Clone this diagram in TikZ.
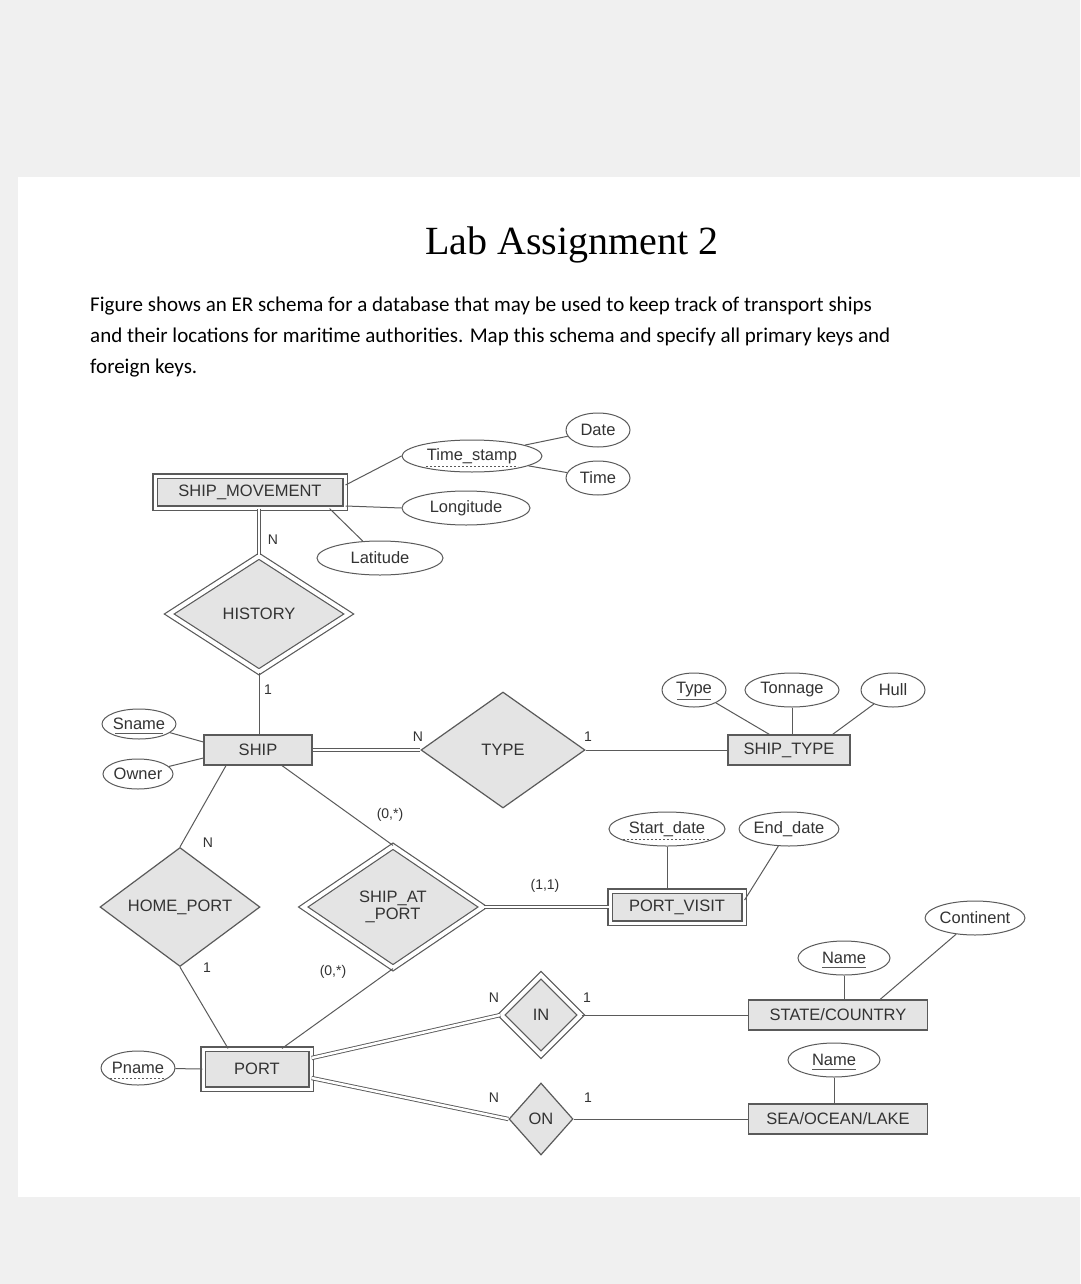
\documentclass[tikz,border=0pt]{standalone}
\usepackage{fontspec}
\setmainfont{Liberation Sans}
\newfontfamily\titlefont{Liberation Serif}
\newfontfamily\parafont{Carlito}
\usetikzlibrary{shapes.geometric,calc}
\definecolor{ln}{HTML}{5A5A5A}
\definecolor{fl}{HTML}{E4E4E4}
\definecolor{tx}{HTML}{333333}
\begin{document}
\begin{tikzpicture}[x=1pt,y=-1pt,
  every node/.style={text=tx,font=\fontsize{16.5}{17}\selectfont},
  ent/.style={draw=ln,fill=fl,line width=1.2pt,minimum height=30pt,inner sep=2pt},
  went/.style={ent,double=white,double distance=3pt,minimum height=32pt},
  attr/.style={draw=ln,ellipse,line width=1pt,fill=white,inner sep=0pt,minimum height=34pt},
  rel/.style={draw=ln,fill=fl,diamond,line width=1.2pt,inner sep=0pt},
  wrel/.style={rel,double=white,double distance=4pt},
  cn/.style={draw=ln,line width=1pt},
  dcn/.style={draw=ln,line width=0.9pt,double=white,double distance=2.5pt},
  lab/.style={font=\fontsize{14}{15}\selectfont},
  dul/.style={draw=ln,dashed,line width=0.8pt,dash pattern=on 2pt off 2pt},
  ul/.style={draw=ln,line width=0.9pt}]
\useasboundingbox (0,0) rectangle (1080,1284);
\fill[white!94!black] (0,0) rectangle (1080,1284);
\fill[white] (18,177) rectangle (1080,1197);
\node[font=\titlefont\fontsize{40}{44}\selectfont,text=black] (title) at (572,245) {Lab Assignment 2};
\node[font=\parafont\fontsize{21}{31}\selectfont,text=black,anchor=north west,align=left,inner sep=0pt] (para) at (90,297)
 {Figure shows an ER schema for a database that may be used to keep track of transport ships\\and their locations for maritime authorities. Map this schema and specify all primary keys and\\foreign keys.};

% entities
\node[went,minimum width=190pt] (sm) at (250,492) {SHIP\_MOVEMENT};
\node[ent,minimum width=108pt] (ship) at (258,750) {SHIP};
\node[ent,minimum width=122pt] (st) at (789,750) {SHIP\_TYPE};
\node[went,minimum width=134pt] (pv) at (677,907) {PORT\_VISIT};
\node[ent,minimum width=179pt] (sc) at (838,1015) {STATE/COUNTRY};
\node[went,minimum width=108pt,minimum height=40pt] (port) at (257,1069) {PORT};
\node[ent,minimum width=179pt] (sol) at (838,1119) {SEA/OCEAN/LAKE};

% relationships
\node[wrel,minimum width=180pt,minimum height=116pt] (hist) at (259,614) {HISTORY};
\node[rel,minimum width=164pt,minimum height=116pt] (type) at (503,750) {TYPE};
\node[rel,minimum width=160pt,minimum height=116pt] (hp) at (180,907) {HOME\_PORT};
\node[wrel,minimum width=180pt,minimum height=122pt,align=center] (sap) at (393,907) {SHIP\_AT\\\_PORT};
\node[wrel,minimum width=80pt,minimum height=80pt] (in) at (541,1015) {IN};
\node[rel,minimum width=64pt,minimum height=72pt] (on) at (541,1119) {ON};

% attributes
\node[attr,minimum width=140pt,minimum height=32pt] (ts) at (472,456) {Time\_stamp};
\node[attr,minimum width=64pt] (date) at (598,430) {Date};
\node[attr,minimum width=64pt] (time) at (598,478) {Time};
\node[attr,minimum width=128pt] (lon) at (466,508) {Longitude};
\node[attr,minimum width=126pt] (lat) at (380,558) {Latitude};
\node[attr,minimum width=70pt,minimum height=30pt] (sname) at (139,724) {Sname};
\node[attr,minimum width=70pt,minimum height=30pt] (owner) at (138,774) {Owner};
\node[attr,minimum width=64pt] (ty) at (694,690) {Type};
\node[attr,minimum width=94pt] (ton) at (792,690) {Tonnage};
\node[attr,minimum width=64pt] (hull) at (893,690) {Hull};
\node[attr,minimum width=116pt] (sd) at (667,829) {Start\_date};
\node[attr,minimum width=96pt] (ed) at (789,829) {End\_date};
\node[attr,minimum width=92pt] (nm1) at (844,958) {Name};
\node[attr,minimum width=92pt] (cont) at (975,918) {Continent};
\node[attr,minimum width=92pt] (nm2) at (834,1060) {Name};
\node[attr,minimum width=72pt] (pname) at (138,1068) {Pname};

% key underlines
\draw[ul] ($(sname.center)+(-24,9)$) -- ($(sname.center)+(24,9)$);
\draw[ul] ($(ty.center)+(-17,9)$) -- ($(ty.center)+(17,9)$);
\draw[ul] ($(nm1.center)+(-22,9)$) -- ($(nm1.center)+(22,9)$);
\draw[ul] ($(nm2.center)+(-22,9)$) -- ($(nm2.center)+(22,9)$);
\draw[dul] ($(ts.center)+(-46,10)$) -- ($(ts.center)+(46,10)$);
\draw[dul] ($(sd.center)+(-44,10)$) -- ($(sd.center)+(44,10)$);
\draw[dul] ($(pname.center)+(-28,10)$) -- ($(pname.center)+(28,10)$);

% attribute connectors
\draw[cn] ([yshift=7pt]sm.east) -- (ts.west);
\draw[cn] (ts) -- (date);
\draw[cn] (ts) -- (time);
\draw[cn] ([yshift=-14pt]sm.east) -- (lon.west);
\draw[cn] ([xshift=-16pt]sm.south east) -- (lat);
\draw[cn] (sname) -- ([yshift=8pt]ship.west);
\draw[cn] (owner) -- ([yshift=-8pt]ship.west);
\draw[cn] (ty) -- ([xshift=42pt]st.north west);
\draw[cn] (ton) -- ([xshift=3pt]st.north);
\draw[cn] (hull) -- ([xshift=-18pt]st.north east);
\draw[cn] (sd) -- (sd |- pv.north);
\draw[cn] (ed) -- ([yshift=7pt]pv.east);
\draw[cn] (nm1) -- (nm1 |- sc.north);
\draw[cn] (cont) -- ([xshift=-48pt]sc.north east);
\draw[cn] (nm2) -- (nm2 |- sol.north);
\draw[cn] (pname) -- (port.west);

% relationship connectors
\draw[dcn] (sm.south -| hist.north) -- (hist.north);
\draw[cn] (hist.south) -- (hist.south |- ship.north);
\draw[dcn] (ship.east) -- (type.west);
\draw[cn] (type.east) -- (st.west);
\draw[cn] ([xshift=-32pt]ship.south) -- (hp.north);
\draw[cn] (hp.south) -- ([xshift=-29pt]port.north);
\draw[cn] ([xshift=24pt]ship.south) -- (sap.north);
\draw[cn] (sap.south) -- ([xshift=25pt]port.north);
\draw[dcn] (sap.east) -- (pv.west);
\draw[dcn] ([yshift=11pt]port.east) -- (in.west);
\draw[cn] (in.east) -- (sc.west);
\draw[dcn] ([yshift=-9pt]port.east) -- (on.west);
\draw[cn] (on.east) -- (sol.west);

% cardinalities
\node[lab] (c1) at (273,540) {N};
\node[lab] (c2) at (268,690) {1};
\node[lab] (c3) at (418,737) {N};
\node[lab] (c4) at (588,737) {1};
\node[lab] (c5) at (208,843) {N};
\node[lab] (c6) at (207,968) {1};
\node[lab] (c7) at (390,815) {(0,*)};
\node[lab] (c8) at (333,972) {(0,*)};
\node[lab] (c9) at (545,886) {(1,1)};
\node[lab] (c10) at (494,998) {N};
\node[lab] (c11) at (587,998) {1};
\node[lab] (c12) at (494,1098) {N};
\node[lab] (c13) at (588,1098) {1};
\end{tikzpicture}
\end{document}
